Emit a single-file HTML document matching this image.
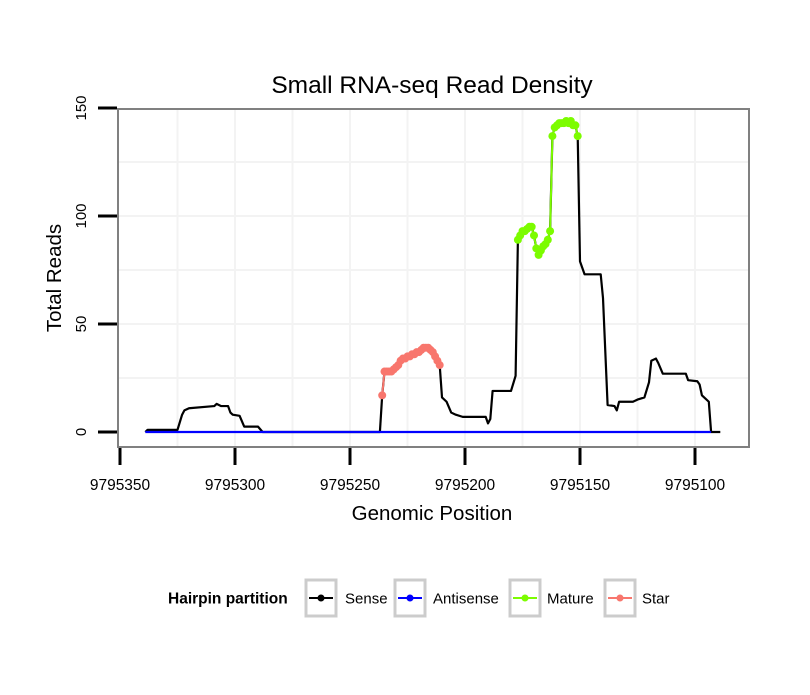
<!DOCTYPE html>
<html><head><meta charset="utf-8"><style>
body{margin:0;background:#fff;width:810px;height:690px;overflow:hidden;font-family:"Liberation Sans",sans-serif}
</style></head><body>
<svg id="chart" width="810" height="690" xmlns="http://www.w3.org/2000/svg" font-family="Liberation Sans, sans-serif"></svg>
<script>
const sensePos=[9795339,9795338,9795325,9795323,9795322,9795320,9795309,9795308,9795306,9795303,9795302,9795301,9795298,9795296,9795290,9795288,9795237,9795210,9795208,9795206,9795204,9795201,9795191,9795190,9795189,9795188,9795180,9795178,9795150,9795148,9795141,9795140,9795138,9795135,9795134,9795133,9795127,9795125,9795122,9795120,9795119,9795117,9795116,9795114,9795104,9795103,9795099,9795098,9795097,9795094,9795093,9795089];
const senseReads=[0,1,1,8,10,11,12,13,12,12,9,8,7.5,2.5,2.5,0,0,16,14,9,8,7,7,4,6,19,19,26,79,73,73,62,12.5,12,10,14,14,15,16,23,33,34,32,27,27,24,23.5,22,17,14,0,0];
const starPos=[9795236,9795235,9795234,9795233,9795232,9795231,9795230,9795229,9795228,9795227,9795226,9795225,9795224,9795223,9795222,9795221,9795220,9795219,9795218,9795217,9795216,9795215,9795214,9795213,9795212,9795211];
const starReads=[17,28,28,28,28,29,30,31,33,34,34,35,35,36,36,37,37,38,39,39,39,38,37,35,33,31];
const maturePos=[9795177,9795176,9795175,9795174,9795173,9795172,9795171,9795170,9795169,9795168,9795167,9795166,9795165,9795164,9795163,9795162,9795161,9795160,9795159,9795158,9795157,9795156,9795155,9795154,9795153,9795152,9795151];
const matureReads=[89,91,93,93,94,95,95,91,85,82,84,86,87,89,93,137,141,142,143,143,143,144,143,144,142,142,137];
const antiPos=[9795339,9795093];
const antiReads=[0,0];
const xTicks=[9795350,9795300,9795250,9795200,9795150,9795100];
const yTicks=[0,50,100,150];

const svg=document.getElementById('chart');
const NS='http://www.w3.org/2000/svg';
const L=118,R=749,T=109,B=447;
const xs=p=>120+(9795350-p)*2.3;
const ys=v=>432-v*2.16;
function mk(tag,attrs,parent){const e=document.createElementNS(NS,tag);for(const k in attrs)e.setAttribute(k,attrs[k]);(parent||svg).appendChild(e);return e;}

const title=mk('text',{x:432,y:93,'text-anchor':'middle','font-size':24.5,fill:'#000'});


title.textContent='Small RNA-seq Read Density';

const grid=mk('g',{});


for(let p=9795325;p>=9795075;p-=25){const x=xs(p);if(x>L&&x<R){mk('line',{x1:x,x2:x,y1:T,y2:B,stroke:'#f3f3f3','stroke-width':2},grid);}}
for(let v=25;v<=150;v+=25){const y=ys(v);if(y>T&&y<B){mk('line',{x1:L,x2:R,y1:y,y2:y,stroke:'#f3f3f3','stroke-width':2},grid);}}

const panel=mk('rect',{x:L,y:T,width:R-L,height:B-T,fill:'none',stroke:'#808080','stroke-width':2});



yTicks.forEach(v=>{
  const y=ys(v);
  const t=mk('line',{x1:98,x2:117,y1:y,y2:y,stroke:'#000','stroke-width':3});
  
  
  const lb=mk('text',{x:0,y:0,transform:`translate(86,${y}) rotate(-90)`,'text-anchor':'middle','font-size':15,fill:'#000'});
  
  
  lb.textContent=v;
});
xTicks.forEach(p=>{
  const x=xs(p);
  const t=mk('line',{x1:x,x2:x,y1:448,y2:465,stroke:'#000','stroke-width':3});
  
  
  const lb=mk('text',{x:x,y:490,'text-anchor':'middle','font-size':15.5,fill:'#000'});
  
  
  lb.textContent=p;
});
const xt=mk('text',{x:432,y:520,'text-anchor':'middle','font-size':20.5,fill:'#000'});


xt.textContent='Genomic Position';
const yt=mk('text',{x:0,y:0,transform:'translate(61,278) rotate(-90)','text-anchor':'middle','font-size':20.5,fill:'#000'});


yt.textContent='Total Reads';

const all=[];
sensePos.forEach((p,i)=>all.push([p,senseReads[i]]));
starPos.forEach((p,i)=>all.push([p,starReads[i]]));
maturePos.forEach((p,i)=>all.push([p,matureReads[i]]));
all.sort((a,b)=>b[0]-a[0]);
const sl=mk('polyline',{points:all.map(d=>xs(d[0])+','+ys(d[1])).join(' '),fill:'none',stroke:'#000','stroke-width':2.2,'stroke-linejoin':'round'});


const al=mk('polyline',{points:antiPos.map((p,i)=>xs(p)+','+ys(antiReads[i])).join(' '),fill:'none',stroke:'#0000ff','stroke-width':2.2});


function dots(pos,reads,color,name){
  const g=mk('g',{});
  
  
  mk('polyline',{points:pos.map((p,i)=>xs(p)+','+ys(reads[i])).join(' '),fill:'none',stroke:color,'stroke-width':2},g);
  pos.forEach((p,i)=>{
    const c=mk('circle',{cx:xs(p),cy:ys(reads[i]),r:4,fill:color},g);
    
    
  });
}
dots(starPos,starReads,'#f8766d','star');
dots(maturePos,matureReads,'#7cfc00','mature');

const lg=mk('g',{});


const lt=mk('text',{x:168,y:603.5,'font-size':15.5,'font-weight':'bold',fill:'#000'},lg);


lt.textContent='Hairpin partition';
const items=[['Sense','#000',306,345],['Antisense','#0000ff',395,433],['Mature','#7cfc00',510,547],['Star','#f8766d',605,642]];
items.forEach(([n,c,x,tx])=>{
  const g=mk('g',{},lg);
  
  
  mk('rect',{x:x,y:580,width:30,height:36,fill:'#fff',stroke:'#cccccc','stroke-width':3},g);
  mk('line',{x1:x+3,x2:x+27,y1:598,y2:598,stroke:c,'stroke-width':2},g);
  mk('circle',{cx:x+15,cy:598,r:3.5,fill:c},g);
  const t=mk('text',{x:tx,y:603.5,'font-size':15,fill:'#000'},g);
  t.textContent=n;
});
</script>
</body></html>
